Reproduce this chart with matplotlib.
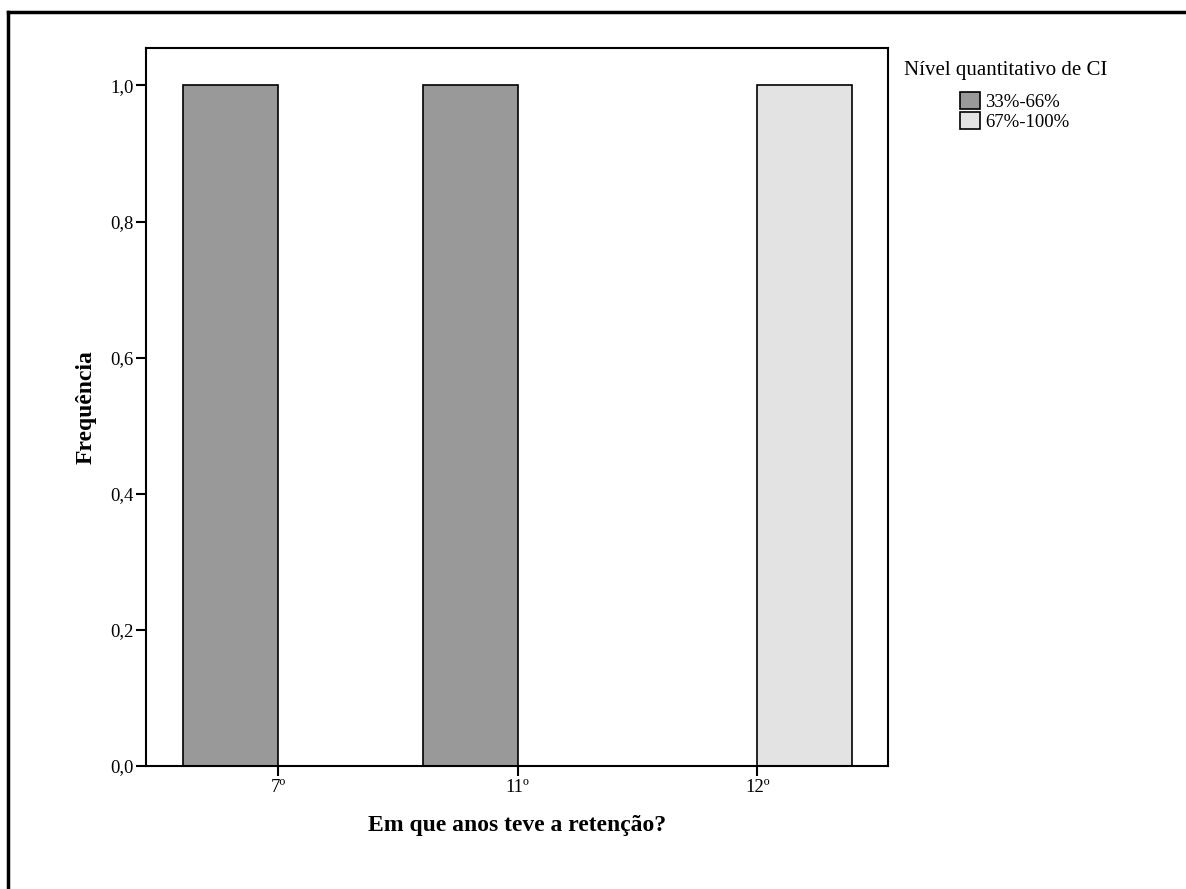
import numpy as np
import matplotlib.pyplot as plt
from matplotlib.patches import Patch
from matplotlib.lines import Line2D

plt.rcParams['font.family'] = ['Liberation Serif', 'DejaVu Serif']

categories = ['7º', '11º', '12º']
series = ['33%-66%', '67%-100%']
values_low = [1.0, 1.0, 0.0]    # 33%-66%
values_high = [0.0, 0.0, 1.0]   # 67%-100%
colors = ['#999999', '#e3e3e3']
yticks = [0.0, 0.2, 0.4, 0.6, 0.8, 1.0]

W, H = 1186, 889
fig = plt.figure(figsize=(W / 100, H / 100), dpi=100)
ax = fig.add_axes([146 / W, 1 - 766 / H, (888 - 146) / W, (766 - 48) / H])

x = np.arange(len(categories))
width = 0.397
for vals, off, col in [(values_low, -width / 2, colors[0]), (values_high, width / 2, colors[1])]:
    for xi, v in zip(x, vals):
        if v > 0:
            ax.bar(xi + off, v, width, color=col, edgecolor='black', linewidth=1.2)

ax.set_xlim(-0.552, 2.546)
ax.set_ylim(0, 1.055)
ax.set_xticks(x)
ax.set_xticklabels(categories, fontsize=13.5)
ax.set_yticks(yticks)
ax.set_yticklabels([f'{t:.1f}'.replace('.', ',') for t in yticks], fontsize=13.5)
ax.tick_params(axis='both', direction='out', length=7, width=1.5, color='black', pad=2)
for s in ax.spines.values():
    s.set_linewidth(1.5)

ax.set_xlabel('Em que anos teve a retenção?', fontsize=17, fontweight='bold', labelpad=14)
ax.set_ylabel('Frequência', fontsize=17, fontweight='bold', labelpad=10)

# legend
fig.text(904 / W, 1 - 71 / H, 'Nível quantitativo de CI', fontsize=15, va='center', ha='left')
handles = [Patch(facecolor=c, edgecolor='black', linewidth=1.2) for c in colors]
fig.legend(handles, series, loc='upper left', bbox_to_anchor=(960 / W, 1 - 92 / H),
           frameon=False, fontsize=13.5, handlelength=1.05, handleheight=1.05,
           handletextpad=0.3, labelspacing=0.05, borderpad=0, borderaxespad=0)

# outer frame (open to the right and bottom)
fig.add_artist(Line2D([7.5 / W, 1], [1 - 12 / H, 1 - 12 / H], color='black', linewidth=2.5,
                      transform=fig.transFigure))
fig.add_artist(Line2D([7.5 / W, 7.5 / W], [0, 1 - 12 / H], color='black', linewidth=2.5,
                      transform=fig.transFigure))

fig.savefig('out.png', dpi=100)
